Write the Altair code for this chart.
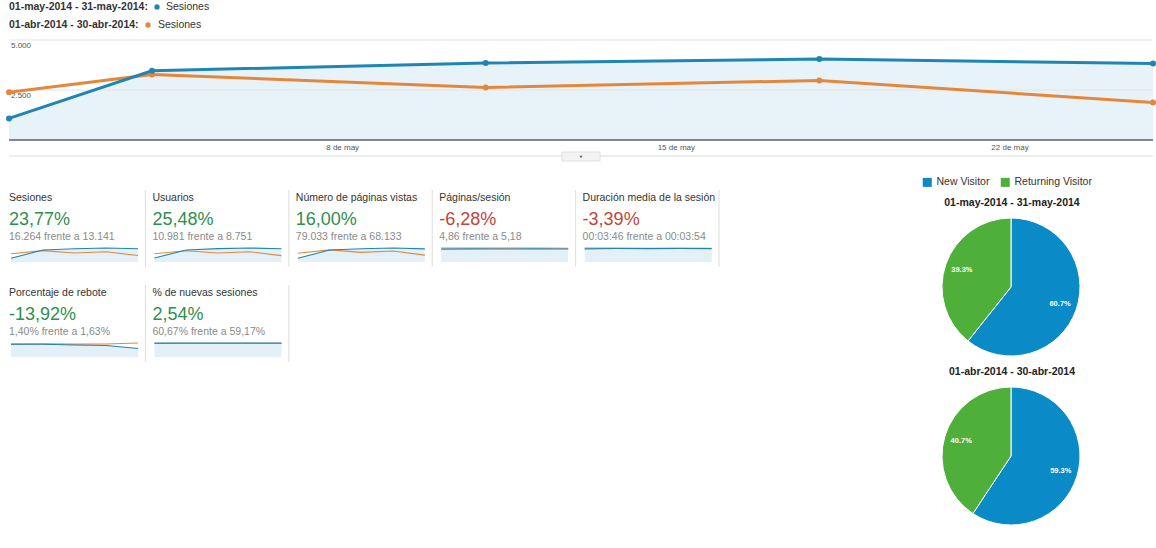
import altair as alt
import pandas as pd

FONT = "Liberation Sans"
BLUE = "#1f85b3"
ORANGE = "#e4873a"
AREA = "#e8f2f9"
GREEN_TXT = "#2f8f4e"
RED_TXT = "#c0453a"
PIE_BLUE = "#0a8ac6"
PIE_GREEN = "#4eb03a"

# ---------------- main chart data ----------------
days = [1, 4, 11, 18, 25]
sessions_may = [1080, 3460, 3850, 4050, 3824]
sessions_apr = [2390, 3280, 2620, 2980, 1871]
y_ticks = [2500, 5000]
y_tick_labels = ["2.500", "5.000"]
x_ticks = [8, 15, 22]
x_tick_labels = ["8 de may", "15 de may", "22 de may"]
period_may = "01-may-2014 - 31-may-2014"
period_apr = "01-abr-2014 - 30-abr-2014"
series_name = "Sesiones"

# ---------------- scorecards ----------------
card_titles = ["Sesiones", "Usuarios", "Número de páginas vistas", "Páginas/sesión",
               "Duración media de la sesión", "Porcentaje de rebote", "% de nuevas sesiones"]
card_pcts = ["23,77%", "25,48%", "16,00%", "-6,28%", "-3,39%", "-13,92%", "2,54%"]
card_subs = ["16.264 frente a 13.141", "10.981 frente a 8.751", "79.033 frente a 68.133",
             "4,86 frente a 5,18", "00:03:46 frente a 00:03:54", "1,40% frente a 1,63%",
             "60,67% frente a 59,17%"]
card_good = [1, 1, 1, 0, 0, 1, 1]
card_col = [0, 1, 2, 3, 4, 0, 1]
card_row = [0, 0, 0, 0, 0, 1, 1]

spark_may = [
    [1080, 3460, 3850, 4050, 3824],
    [780, 2330, 2590, 2720, 2561],
    [5200, 16900, 18700, 19700, 18533],
    [4.80, 4.88, 4.86, 4.87, 4.85],
    [222, 228, 226, 227, 225],
    [1.58, 1.56, 1.48, 1.42, 1.05],
    [60.2, 60.9, 60.6, 60.8, 60.7],
]
spark_apr = [
    [2390, 3280, 2620, 2980, 1871],
    [1600, 2180, 1750, 1990, 1231],
    [12400, 17000, 13600, 15500, 9633],
    [5.20, 5.21, 5.15, 5.19, 5.12],
    [236, 235, 232, 234, 230],
    [1.55, 1.62, 1.58, 1.60, 1.72],
    [59.0, 59.4, 59.1, 59.3, 59.1],
]

# ---------------- pies ----------------
pie_cats = ["New Visitor", "Returning Visitor"]
pie_may = [60.7, 39.3]
pie_apr = [59.3, 40.7]
pie_may_labels = ["60.7%", "39.3%"]
pie_apr_labels = ["59.3%", "40.7%"]

# ---------------- tables ----------------
main_df = pd.DataFrame({"day": days, "may": sessions_may, "apr": sessions_apr})
ytick_df = pd.DataFrame({"v": y_ticks, "label": y_tick_labels})
xtick_df = pd.DataFrame({"t": x_ticks, "label": x_tick_labels})
cards_df = pd.DataFrame({"col": card_col, "row": card_row, "title": card_titles,
                         "pct": card_pcts, "sub": card_subs, "good": card_good})
rows = []
for k in range(len(card_titles)):
    for i in range(5):
        rows.append({"metric": k, "col": card_col[k], "row": card_row[k], "i": i,
                     "may": spark_may[k][i], "apr": spark_apr[k][i]})
spark_df = pd.DataFrame(rows)
pie1_df = pd.DataFrame({"cat": pie_cats, "pct": pie_may, "ord": [0, 1], "label": pie_may_labels})
pie2_df = pd.DataFrame({"cat": pie_cats, "pct": pie_apr, "ord": [0, 1], "label": pie_apr_labels})
one = pd.DataFrame({"a": [0]})

# ---------------- scales ----------------
def msx():
    return alt.Scale(domain=[1, 25], range=[9, 1153], nice=False, zero=False)

def msy():
    return alt.Scale(domain=[0, 5000], range=[140, 40], nice=False, zero=False)

def MX(f):
    return alt.X(f, type="quantitative", scale=msx(), axis=None)

def MY(f):
    return alt.Y(f, type="quantitative", scale=msy(), axis=None)

def SX(f):
    return alt.X(f, type="quantitative",
                 scale=alt.Scale(domain=[0, 5], range=[2, 719], nice=False, zero=False), axis=None)

def SY(f):
    return alt.Y(f, type="quantitative",
                 scale=alt.Scale(domain=[0, 2], range=[190, 380], nice=False, zero=False), axis=None)

layers = []

# main chart
layers.append(alt.Chart(main_df).mark_area(color=AREA).encode(x=MX("day"), y=MY("may")))
layers.append(alt.Chart(ytick_df).mark_rule(color="#e4e4e4", strokeWidth=1).encode(
    y=MY("v"), x=alt.XDatum(1, scale=msx(), axis=None), x2=alt.X2Datum(25)))
layers.append(alt.Chart(one).mark_rule(color="#5a6268", strokeWidth=1.5).encode(
    y=alt.YDatum(0, scale=msy(), axis=None), x=alt.XDatum(1, scale=msx(), axis=None), x2=alt.X2Datum(25)))
layers.append(alt.Chart(ytick_df).mark_text(align="left", baseline="middle", dx=2, dy=6,
                                           fontSize=8, font=FONT, color="#555").encode(
    y=MY("v"), x=alt.XDatum(1, scale=msx(), axis=None), text="label:N"))
layers.append(alt.Chart(xtick_df).mark_text(align="center", baseline="middle", fontSize=8,
                                           font=FONT, color="#555").encode(
    x=MX("t"), y=alt.value(148), text="label:N"))
layers.append(alt.Chart(main_df).mark_line(color=ORANGE, strokeWidth=3).encode(x=MX("day"), y=MY("apr")))
layers.append(alt.Chart(main_df).mark_point(color=ORANGE, filled=True, opacity=1, size=36).encode(
    x=MX("day"), y=MY("apr")))
layers.append(alt.Chart(main_df).mark_line(color=BLUE, strokeWidth=3).encode(x=MX("day"), y=MY("may")))
layers.append(alt.Chart(main_df).mark_point(color=BLUE, filled=True, opacity=1, size=36).encode(
    x=MX("day"), y=MY("may")))
# lower separator + handle
layers.append(alt.Chart(one).mark_rule(color="#dddddd", strokeWidth=1).encode(
    y=alt.value(156), x=alt.XDatum(1, scale=msx(), axis=None), x2=alt.X2Datum(25)))
layers.append(alt.Chart(one).mark_rect(fill="#f3f3f3", stroke="#e0e0e0", strokeWidth=1).encode(
    x=alt.value(562), x2=alt.value(600), y=alt.value(152), y2=alt.value(161)))
layers.append(alt.Chart(one).mark_point(shape="triangle-down", filled=True, size=10, color="#666",
                                       opacity=1).encode(x=alt.value(581), y=alt.value(157)))

# top legend
leg_df = pd.DataFrame({"period": [period_may + ":", period_apr + ":"], "series": [series_name, series_name],
                       "ypos": [7, 25]})
layers.append(alt.Chart(leg_df).mark_text(align="left", baseline="middle", fontSize=10.5, font=FONT,
                                         fontWeight="bold", color="#333").encode(
    x=alt.value(9), y=alt.Y("ypos:Q", scale=alt.Scale(domain=[0, 548], range=[0, 548]), axis=None),
    text="period:N"))
layers.append(alt.Chart(leg_df.iloc[[0]]).mark_point(filled=True, size=28, color=BLUE, opacity=1).encode(
    x=alt.value(157), y=alt.value(7)))
layers.append(alt.Chart(leg_df.iloc[[1]]).mark_point(filled=True, size=28, color=ORANGE, opacity=1).encode(
    x=alt.value(148), y=alt.value(25)))
layers.append(alt.Chart(leg_df.iloc[[0]]).mark_text(align="left", baseline="middle", fontSize=10.5,
                                                   font=FONT, color="#333").encode(
    x=alt.value(166), y=alt.value(7), text="series:N"))
layers.append(alt.Chart(leg_df.iloc[[1]]).mark_text(align="left", baseline="middle", fontSize=10.5,
                                                   font=FONT, color="#333").encode(
    x=alt.value(158), y=alt.value(25), text="series:N"))

# scorecards
cards = alt.Chart(cards_df)
layers.append(cards.transform_calculate(sep="datum.col + 1", rowend="datum.row + 0.81").mark_rule(
    color="#dedede", strokeWidth=1).encode(x=SX("sep"), y=SY("row"), y2=alt.Y2("rowend:Q")))
layers.append(cards.mark_text(align="left", baseline="middle", dx=7, dy=8, fontSize=10.5, font=FONT,
                              color="#333").encode(x=SX("col"), y=SY("row"), text="title:N"))
layers.append(cards.mark_text(align="left", baseline="middle", dx=7, dy=30, fontSize=18, font=FONT).encode(
    x=SX("col"), y=SY("row"), text="pct:N",
    color=alt.condition("datum.good == 1", alt.value(GREEN_TXT), alt.value(RED_TXT))))
layers.append(cards.mark_text(align="left", baseline="middle", dx=7, dy=47, fontSize=10.5, font=FONT,
                              color="#8a8a8a").encode(x=SX("col"), y=SY("row"), text="sub:N"))

spark = alt.Chart(spark_df).transform_joinaggregate(
    m1="max(may)", m2="max(apr)", groupby=["metric"]
).transform_calculate(
    mx="max(datum.m1, datum.m2)",
    xs="datum.col + 0.063 + datum.i * 0.2214",
    ym="datum.row + (72 - 14 * datum.may / datum.mx) / 95",
    ya="datum.row + (72 - 14 * datum.apr / datum.mx) / 95",
    yb="datum.row + 72 / 95",
)
layers.append(spark.mark_area(color="#e4f0f8").encode(x=SX("xs"), y=SY("ym"), y2=alt.Y2("yb:Q"),
                                                      detail="metric:N"))
layers.append(spark.mark_line(color=ORANGE, strokeWidth=1.1).encode(x=SX("xs"), y=SY("ya"), detail="metric:N"))
layers.append(spark.mark_line(color=BLUE, strokeWidth=1.1).encode(x=SX("xs"), y=SY("ym"), detail="metric:N"))

# pies
pie_color_scale = alt.Scale(domain=pie_cats, range=[PIE_BLUE, PIE_GREEN])
legend = alt.Legend(orient="none", legendX=922, legendY=177, direction="horizontal", title=None,
                    symbolType="square", symbolSize=81, symbolStrokeWidth=0, labelFontSize=10.5,
                    labelColor="#333", labelFont=FONT, columnPadding=10, labelOffset=4, padding=0)
for df, cy, ty, title, show in [(pie1_df, 287, 203, period_may, True), (pie2_df, 456, 372, period_apr, False)]:
    base = alt.Chart(df)
    layers.append(base.mark_arc(radius=69, stroke="white", strokeWidth=1).encode(
        theta=alt.Theta("pct:Q", stack=True),
        color=alt.Color("cat:N", scale=pie_color_scale, legend=legend if show else None),
        order=alt.Order("ord:Q"),
        x=alt.value(1011), y=alt.value(cy)))
    layers.append(base.mark_text(radius=52, fontSize=7.5, fontWeight="bold", font=FONT, color="white").encode(
        theta=alt.Theta("pct:Q", stack=True), order=alt.Order("ord:Q"), text="label:N",
        x=alt.value(1011), y=alt.value(cy)))
    layers.append(alt.Chart(pd.DataFrame({"t": [title]})).mark_text(
        align="center", baseline="middle", fontSize=10.5, fontWeight="bold", font=FONT, color="#222").encode(
        x=alt.value(1012), y=alt.value(ty), text="t:N"))

chart = alt.layer(*layers).resolve_scale(
    x="independent", y="independent", theta="independent", color="independent"
).properties(
    width=1156, height=548, autosize=alt.AutoSizeParams(type="none"), padding=0, background="white"
).configure_view(stroke=None)

chart.save("out.html", embed_options={"renderer": "svg", "actions": False})
